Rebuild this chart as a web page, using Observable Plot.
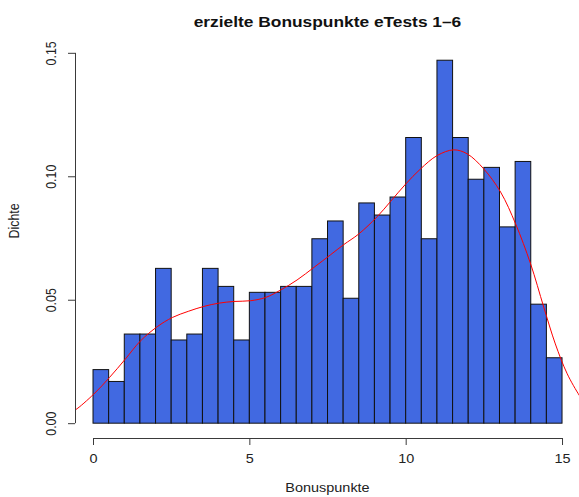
<!DOCTYPE html>
<html>
<head>
<meta charset="utf-8">
<script src="https://cdn.jsdelivr.net/npm/d3@7"></script>
<script src="https://cdn.jsdelivr.net/npm/@observablehq/plot@0.6"></script>
<style>
  html, body { margin: 0; padding: 0; background: #ffffff; }
  #chart svg { display: block; }
</style>
</head>
<body>
<div id="chart"></div>
<script>
// Histogram bins (lower edges, width 0.5) and densities
const binStart = [0, 0.5, 1, 1.5, 2, 2.5, 3, 3.5, 4, 4.5, 5, 5.5, 6, 6.5, 7, 7.5,
                  8, 8.5, 9, 9.5, 10, 10.5, 11, 11.5, 12, 12.5, 13, 13.5, 14, 14.5];
const binWidth = 0.5;
const densities = [0.0217, 0.0169, 0.0361, 0.0361, 0.0627, 0.0337, 0.0361, 0.0627,
                   0.0554, 0.0337, 0.0530, 0.0530, 0.0554, 0.0554, 0.0747, 0.0819,
                   0.0506, 0.0892, 0.0843, 0.0916, 0.1157, 0.0747, 0.1470, 0.1157,
                   0.0988, 0.1036, 0.0795, 0.1060, 0.0482, 0.0265];

// Kernel density curve points
const curveX = [-0.7, -0.58, 0.01, 0.51, 1.02, 1.5, 2.04, 2.52, 3.03, 3.53, 4.0, 4.49,
                5.02, 5.5, 5.98, 6.51, 7.05, 7.58, 8.0, 8.48, 9.07, 9.5, 9.98, 10.46,
                10.99, 11.52, 11.95, 12.48, 13.02, 13.5, 13.98, 14.4, 14.77, 15.15, 15.54, 15.7];
const curveY = [0.0050, 0.0056, 0.0120, 0.0187, 0.0262, 0.0335, 0.0393, 0.0430, 0.0455, 0.0475, 0.0488, 0.0495,
                0.0498, 0.0511, 0.0541, 0.0582, 0.0633, 0.0684, 0.0725, 0.0768, 0.0838, 0.0900, 0.0970, 0.1032,
                0.1086, 0.1109, 0.1093, 0.1032, 0.0938, 0.0809, 0.0647, 0.0472, 0.0323, 0.0202, 0.0114, 0.0085];

const xTicks = [0, 5, 10, 15];
const yTicks = [0, 0.05, 0.10, 0.15];

const title = "erzielte Bonuspunkte eTests 1\u20136";
const xLabel = "Bonuspunkte";
const yLabel = "Dichte";

const bars = binStart.map((s, i) => ({x1: s, x2: s + binWidth, y: densities[i]}));
const curve = curveX.map((x, i) => ({x, y: curveY[i]}));

const xDomain = [-0.576, 15.543];
const yDomain = [-0.006, 0.156];
const font = "'Liberation Sans', Arial, Helvetica, sans-serif";
const axisColor = "#3a3a3a";
const fs = 12.4;

const chart = Plot.plot({
  width: 579,
  height: 497,
  marginLeft: 75,
  marginRight: 0,
  marginTop: 38,
  marginBottom: 59,
  style: {fontFamily: font, fontSize: fs + "px", background: "#ffffff", color: "#222"},
  x: {domain: xDomain},
  y: {domain: yDomain},
  marks: [
    Plot.rect(bars, {x1: "x1", x2: "x2", y1: 0, y2: "y", fill: "#4169E1", stroke: "#111", strokeWidth: 1}),
    Plot.line(curve, {x: "x", y: "y", stroke: "#FF0000", strokeWidth: 1, curve: "catmull-rom", clip: true}),
    // axis lines (from first to last tick, R style)
    Plot.ruleY([yDomain[0]], {x1: d3.min(xTicks), x2: d3.max(xTicks), stroke: axisColor}),
    Plot.ruleX([xDomain[0]], {y1: d3.min(yTicks), y2: d3.max(yTicks), stroke: axisColor}),
    Plot.axisX(xTicks, {tickSize: 7, tickPadding: 9, fontSize: fs, label: null, stroke: axisColor, tickFormat: d => String(d)}),
    Plot.axisY(yTicks, {tickSize: 7, label: null, stroke: axisColor, tickFormat: () => ""}),
    Plot.text(yTicks, {x: xDomain[0], y: d => d, text: d => d3.format(".2f")(d), rotate: -90, dx: -24, textAnchor: "middle", fontSize: fs, fill: "#222"}),
    Plot.text([yLabel], {frameAnchor: "left", dx: -61, rotate: -90, fontSize: fs, fill: "#222"}),
    Plot.text([xLabel], {frameAnchor: "bottom", dy: 53, fontSize: fs, fill: "#222"}),
    Plot.text([title], {frameAnchor: "top", dy: -22, fontSize: 14.9, fontWeight: "bold", fill: "#111"})
  ]
});
document.getElementById("chart").appendChild(chart);

// The reference image is horizontally stretched: widen glyphs on screen.
const sx = 1.165;
d3.select(chart).selectAll("text").each(function() {
  const el = d3.select(this);
  const x = +el.attr("x") || 0;
  const y = +el.attr("y") || 0;
  const t = el.attr("transform") || "";
  const rotated = /rotate\(\s*-?90/.test(t);
  const s = rotated ? `scale(1,${sx})` : `scale(${sx},1)`;
  el.attr("transform", `${t} translate(${x},${y}) ${s} translate(${-x},${-y})`);
});
</script>
</body>
</html>
